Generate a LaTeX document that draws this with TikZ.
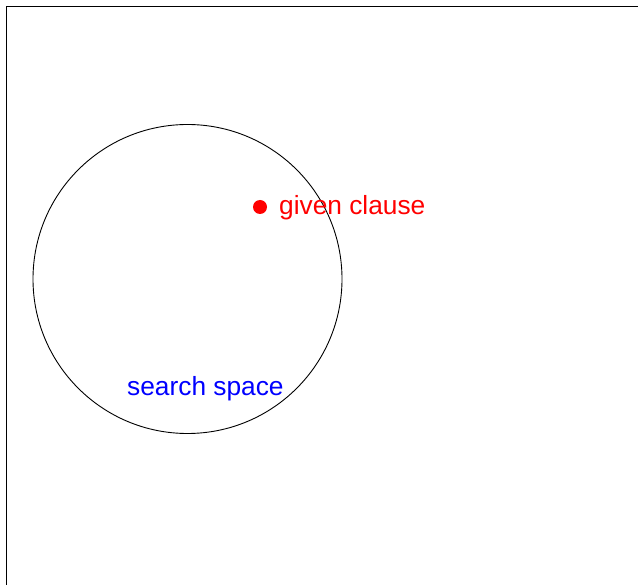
\documentclass[tikz,border=0pt]{standalone}
\usepackage{fontspec}
\setmainfont{Liberation Sans}
\begin{document}
\begin{tikzpicture}[x=1pt,y=-1pt,
  lbl/.style={anchor=base west,inner sep=0pt,font=\fontsize{26.3}{30}\selectfont}]
\useasboundingbox (0,0) rectangle (638,585);
\coordinate (fbl) at (6.5,585);
\coordinate (ftl) at (6.5,6.5);
\coordinate (ftr) at (638,6.5);
\draw[line width=1.2pt] (fbl) -- (ftl) -- (ftr);
\node[draw,circle,minimum size=309pt,inner sep=0pt,line width=0.9pt] (space) at (187.5,279) {};
\node[circle,fill=red,minimum size=14pt,inner sep=0pt] (dot) at (260,207) {};
\node[lbl,text=red] (given) at (279,214.5) {given clause};
\node[lbl,text=blue] (search) at (127,395.5) {search space};
\end{tikzpicture}
\end{document}
